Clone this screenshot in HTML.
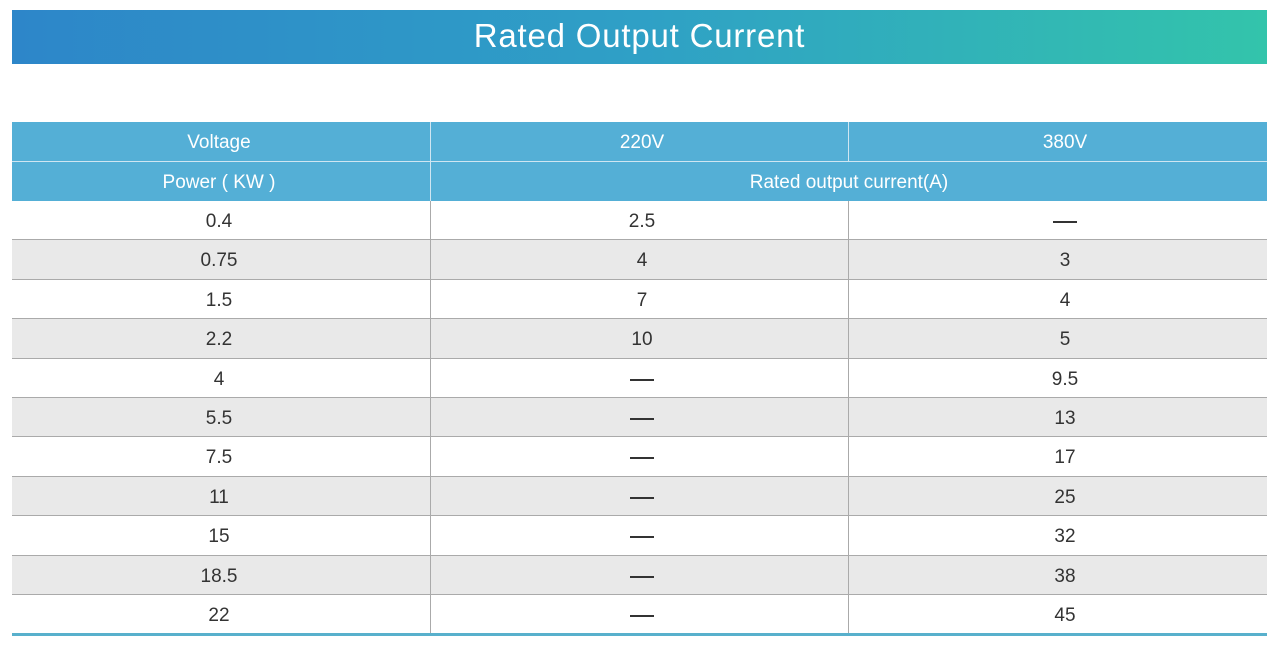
<!DOCTYPE html>
<html><head><meta charset="utf-8"><style>
body{margin:0;width:1280px;height:652px;background:#fff;position:relative;overflow:hidden;font-family:"Liberation Sans","DejaVu Sans",sans-serif;}
.title{position:absolute;left:12px;top:10px;width:1255px;height:54px;background:linear-gradient(90deg,#2d86c9,#2fa0c6 50%,#33c4ab);color:#fff;font-size:33px;text-align:center;line-height:52px;letter-spacing:0.8px}
.c{position:absolute;text-align:center;font-size:19px;color:#333;}
.h{color:#fff;}
.vl{position:absolute;width:1px;background:#aaa;}
.hl{position:absolute;left:12px;width:1255px;height:1px;background:#aaa;}
.d{display:inline-block;width:24px;height:1.5px;background:#333;vertical-align:middle;}
</style></head><body>
<div class="title">Rated Output Current</div>
<div id="t"></div>
<script>
var t=document.getElementById('t'),h='',L='';
var cols=[[12,414],[431,422],[849,432]];
function cell(x,w,y,hh,txt,cls){h+='<div class="c '+(cls||'')+'" style="left:'+x+'px;width:'+w+'px;top:'+y+'px;height:'+hh+'px;line-height:'+hh+'px;">'+txt+'</div>';}
h+='<div style="position:absolute;left:12px;top:122px;width:1255px;height:79px;background:#54afd6"></div>';
cell(12,414,123,39,'Voltage','h');cell(431,422,123,39,'220V','h');cell(849,432,123,39,'380V','h');
cell(12,414,163,39,'Power ( KW )','h');cell(431,836,163,39,'Rated output current(A)','h');
h+='<div style="position:absolute;left:12px;top:161px;width:1255px;height:1px;background:#cfe6f2"></div>';
h+='<div style="position:absolute;left:430px;top:122px;width:1px;height:79px;background:#cfe6f2"></div>';
h+='<div style="position:absolute;left:848px;top:122px;width:1px;height:39px;background:#cfe6f2"></div>';
var D='<span class="d"></span>';
var rows=[['0.4','2.5',D],['0.75','4','3'],['1.5','7','4'],['2.2','10','5'],['4',D,'9.5'],['5.5',D,'13'],['7.5',D,'17'],['11',D,'25'],['15',D,'32'],['18.5',D,'38'],['22',D,'45']];
for(var i=0;i<11;i++){var y=Math.round(201+i*39.4);var y2=Math.round(201+(i+1)*39.4);var bg=i%2?'#e9e9e9':'#fff';
 h+='<div style="position:absolute;left:12px;top:'+y+'px;width:1255px;height:'+(y2-y)+'px;background:'+bg+'"></div>';
 for(var j=0;j<3;j++)cell(cols[j][0],cols[j][1],y+1,39,rows[i][j]);
 if(i<10)L+='<div class="hl" style="top:'+(y2-1)+'px"></div>';}
h+=L;
h+='<div class="vl" style="left:430px;top:201px;height:433px"></div><div class="vl" style="left:848px;top:201px;height:433px"></div>';
h+='<div style="position:absolute;left:12px;top:633px;width:1255px;height:3px;background:#58b0cc"></div>';
t.innerHTML=h;
</script>
</body></html>
